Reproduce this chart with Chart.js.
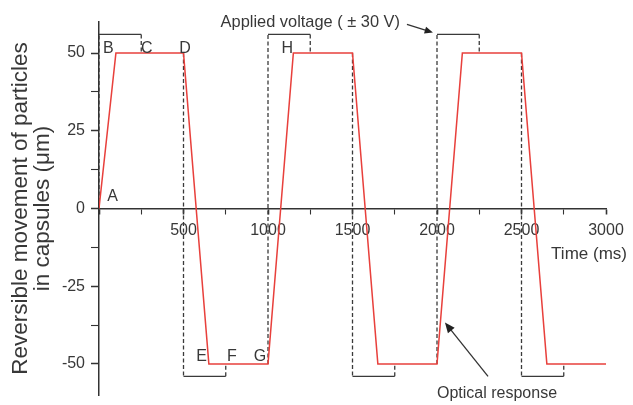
<!DOCTYPE html>
<html>
<head>
<meta charset="utf-8">
<script src="https://cdn.jsdelivr.net/npm/chart.js@4"></script>
<style>
  html, body { margin: 0; padding: 0; background: #ffffff; }
  #chart { display: block; }
</style>
</head>
<body>
<canvas id="chart" width="633" height="405"></canvas>
<script>
// =====================
// DATA
// =====================
// optical response (red trace)
const responseTime = [0, 100, 500, 650, 1000, 1150, 1500, 1650, 2000, 2150, 2500, 2650, 3000];
const responseValue = [0, 50, 50, -50, -50, 50, 50, -50, -50, 50, 50, -50, -50];

// applied voltage pulses (bracket marks)
const pulseStart = [0, 500, 1000, 1500, 2000, 2500];
const pulseEnd = [250, 750, 1250, 1750, 2250, 2750];
const pulseBase = [0, 50, -50, 50, -50, 50];
const pulseLevel = [56, -54, 56, -54, 56, -54];
const pulseEndBase = [50, -50, 50, -50, 50, -50];

// point letters
const letterText = ["A", "B", "C", "D", "E", "F", "G", "H"];
const letterTime = [80, 55, 282, 509, 607, 787, 953, 1114];
const letterValue = [3.8, 51.6, 51.6, 51.6, -47.6, -47.6, -47.6, 51.6];

const FONT = '"Liberation Sans", Arial, sans-serif';
const TEXT_COLOR = "#383838";
const AXIS_COLOR = "#333333";
const PULSE_COLOR = "#3a3a3a";

const responseData = responseTime.map((t, i) => ({ x: t, y: responseValue[i] }));

function pulseLine(points, dashed) {
  return {
    data: points,
    borderColor: PULSE_COLOR,
    borderWidth: 1.3,
    borderDash: dashed ? [4, 2.5] : [],
    pointRadius: 0,
    tension: 0
  };
}

const pulseDatasets = [];
pulseStart.forEach((s, i) => {
  const e = pulseEnd[i];
  pulseDatasets.push(pulseLine([{ x: s, y: pulseBase[i] }, { x: s, y: pulseLevel[i] }], true));
  pulseDatasets.push(pulseLine([{ x: s, y: pulseLevel[i] }, { x: e, y: pulseLevel[i] }], false));
  pulseDatasets.push(pulseLine([{ x: e, y: pulseLevel[i] }, { x: e, y: pulseEndBase[i] }], true));
});

// =====================
// ANNOTATIONS
// =====================
function arrow(ctx, x1, y1, x2, y2, size) {
  const a = Math.atan2(y2 - y1, x2 - x1);
  ctx.beginPath();
  ctx.moveTo(x1, y1);
  ctx.lineTo(x2 - Math.cos(a) * size * 0.8, y2 - Math.sin(a) * size * 0.8);
  ctx.stroke();
  ctx.beginPath();
  ctx.moveTo(x2, y2);
  ctx.lineTo(x2 - size * Math.cos(a - 0.4), y2 - size * Math.sin(a - 0.4));
  ctx.lineTo(x2 - size * Math.cos(a + 0.4), y2 - size * Math.sin(a + 0.4));
  ctx.closePath();
  ctx.fill();
}

const annotations = {
  id: "annotations",
  afterDraw(chart) {
    const { ctx } = chart;
    const xs = chart.scales.x, ys = chart.scales.y;
    const px = v => xs.getPixelForValue(v);
    const py = v => ys.getPixelForValue(v);

    ctx.save();
    ctx.fillStyle = TEXT_COLOR;
    ctx.strokeStyle = "#333333";
    ctx.lineWidth = 1.3;
    ctx.textBaseline = "middle";

    ctx.font = "16px " + FONT;
    ctx.textAlign = "center";
    letterText.forEach((t, i) => ctx.fillText(t, px(letterTime[i]), py(letterValue[i])));

    ctx.font = "16.4px " + FONT;
    ctx.textAlign = "right";
    ctx.fillText("Applied voltage ( \u00b1 30 V)", px(1781), py(60));
    ctx.font = "16px " + FONT;
    ctx.textAlign = "center";
    ctx.fillText("Optical response", px(2355), py(-59.6));

    ctx.font = "17px " + FONT;
    ctx.textAlign = "right";
    ctx.fillText("Time (ms)", px(3124), py(-14.6));

    ctx.fillStyle = "#222222";
    arrow(ctx, px(1822), py(59.2), px(1976), py(56.6), 9);
    arrow(ctx, px(2302), py(-54), px(2047), py(-36.7), 11);
    ctx.restore();
  }
};

// =====================
// CHART
// =====================
new Chart(document.getElementById("chart"), {
  type: "line",
  data: {
    datasets: [
      {
        data: responseData,
        borderColor: "#e8403c",
        borderWidth: 1.5,
        pointRadius: 0,
        tension: 0
      },
      ...pulseDatasets
    ]
  },
  options: {
    responsive: false,
    animation: false,
    layout: { padding: { left: 0, right: 27, top: 22, bottom: 10 } },
    plugins: {
      legend: { display: false },
      tooltip: { enabled: false }
    },
    scales: {
      x: {
        type: "linear",
        position: { y: 0 },
        min: 0,
        max: 3000,
        border: { display: true, color: AXIS_COLOR, width: 1.5 },
        grid: {
          drawOnChartArea: false,
          drawTicks: true,
          tickLength: 5,
          tickColor: AXIS_COLOR,
          tickWidth: ctx => (ctx.tick && ctx.tick.value % 500 === 0 ? 1.6 : 1.1)
        },
        ticks: {
          stepSize: 250,
          autoSkip: false,
          maxRotation: 0,
          padding: 7,
          color: TEXT_COLOR,
          font: { family: FONT, size: 16 },
          callback: v => (v !== 0 && v % 500 === 0 ? String(v) : "")
        }
      },
      y: {
        min: -60,
        max: 60,
        border: { display: true, color: AXIS_COLOR, width: 1.5 },
        grid: {
          drawOnChartArea: false,
          drawTicks: true,
          tickLength: 8,
          tickColor: AXIS_COLOR,
          tickWidth: ctx => (ctx.tick && ctx.tick.value % 25 === 0 ? 1.5 : 1.1)
        },
        ticks: {
          stepSize: 12.5,
          includeBounds: false,
          padding: 6,
          color: TEXT_COLOR,
          font: { family: FONT, size: 16, lineHeight: 0.5 },
          callback: v => (v % 25 === 0 ? String(v) : "")
        },
        title: {
          display: true,
          text: ["Reversible movement of particles", "in capsules (\u03bcm)"],
          color: TEXT_COLOR,
          font: { family: FONT, size: 22.5, lineHeight: 0.98 },
          padding: { top: 10, bottom: 0 }
        },
        afterFit: scale => { scale.width = 99; }
      }
    }
  },
  plugins: [annotations]
});
</script>
</body>
</html>
